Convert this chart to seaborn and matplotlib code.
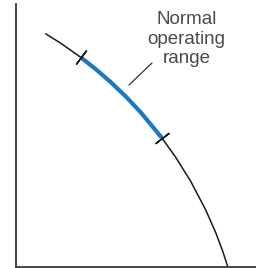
import numpy as np
import pandas as pd
import matplotlib
matplotlib.use("Agg")
import matplotlib.pyplot as plt
import seaborn as sns

# curve (axis units ~ pixels from the origin)
curve_x = [30, 45, 65, 80, 95, 110, 125, 146, 160, 175, 190, 200, 207, 212]
curve_y = [232.7, 223.3, 209.2, 197.4, 184.4, 170.1, 154.2, 128.8, 109.2, 85.2, 56.6, 33.9, 15.3, 0.0]

# normal operating range (part of the curve drawn in blue)
range_x = [65, 80, 95, 110, 125, 146]
range_y = [209.2, 197.4, 184.4, 170.1, 154.2, 128.8]

# end marks of the range and the local slope angle of the curve there
mark_x = [65, 146]
mark_y = [209.2, 128.8]
mark_angle = [-36.8, -52.7]

label = "Normal\noperating\nrange"

sns.set_style("white")
plt.rcParams['font.family'] = ['Liberation Sans', 'DejaVu Sans']

fig = plt.figure(figsize=(2.59, 2.68), dpi=100)
ax = fig.add_axes([15.7 / 259, 1.5 / 268, 239.3 / 259, 262.2 / 268])

df = pd.DataFrame({'x': curve_x, 'y': curve_y})
df_range = pd.DataFrame({'x': range_x, 'y': range_y})

sns.lineplot(data=df, x='x', y='y', ax=ax, color='#1a1a1a', lw=1.1, sort=False)
sns.lineplot(data=df_range, x='x', y='y', ax=ax, color='#1b78c2', lw=3.0, sort=False,
             solid_capstyle='butt')
for mx, my, ma in zip(mark_x, mark_y, mark_angle):
    ax.plot([mx], [my], marker=(2, 2, ma), ms=12.5, mew=1.1, color='#1a1a1a')

ax.annotate('', xy=(113.3, 181.5), xytext=(136.3, 203.5),
            arrowprops=dict(arrowstyle='-', color='#333333', lw=0.9,
                            shrinkA=0, shrinkB=0))
ax.text(171, 227.5, label, ha='center', va='center', fontsize=13.5,
        color='#4a4a4a', linespacing=1.22)

ax.set_xlim(0, 239.3)
ax.set_ylim(0, 262.2)
ax.set_xticks([])
ax.set_yticks([])
ax.set_xlabel('')
ax.set_ylabel('')
sns.despine(ax=ax)
for s in ['left', 'bottom']:
    ax.spines[s].set_color('#444444')
    ax.spines[s].set_linewidth(1.4)

plt.savefig('out.png', dpi=100)
